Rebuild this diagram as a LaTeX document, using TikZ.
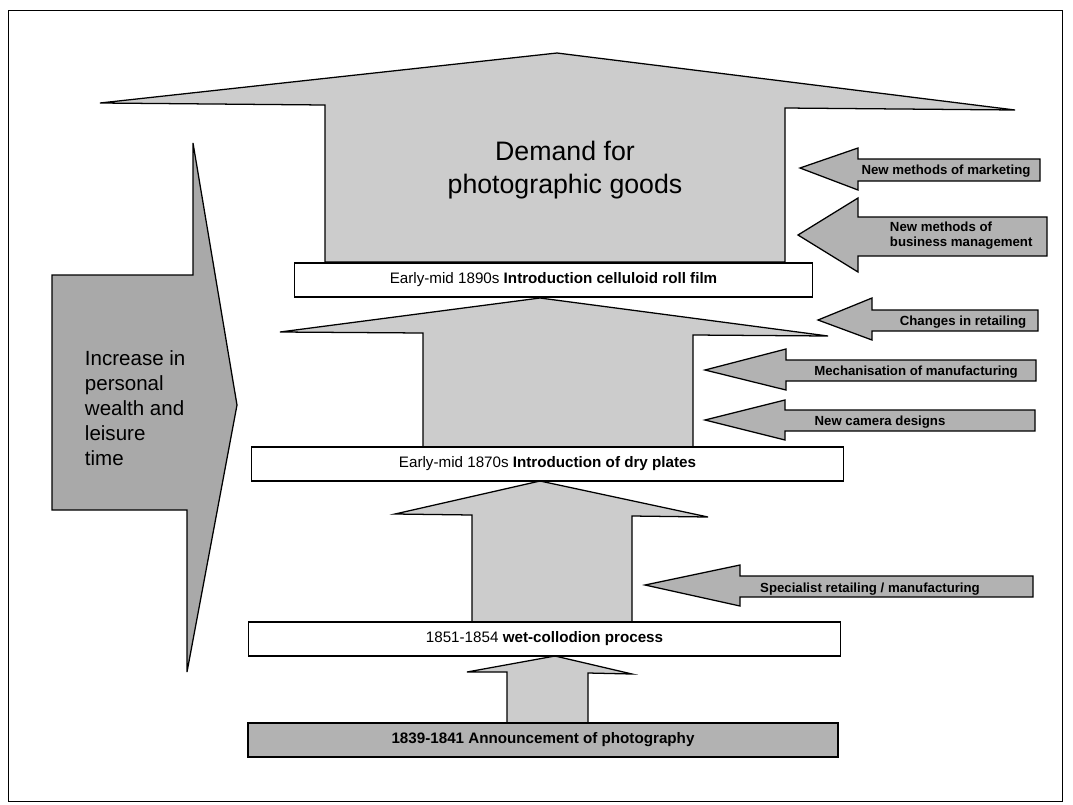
\documentclass[tikz,border=0pt]{standalone}
\usepackage{fontspec}
\setmainfont{Liberation Sans}
\usetikzlibrary{positioning}

\definecolor{lightgrey}{RGB}{204,204,204}
\definecolor{midgrey}{RGB}{178,178,178}

\begin{document}
\begin{tikzpicture}[x=0.025cm, y=-0.025cm,
  bigarrow/.style={draw, line width=0.9pt, fill=lightgrey},
  sidearrow/.style={draw, line width=0.9pt, fill=midgrey},
  stage/.style={draw, line width=0.9pt, fill=white, minimum height=0.85cm, font=\fontsize{10.8}{12}\selectfont},
  sidetext/.style={font=\fontsize{9.4}{10.6}\selectfont\bfseries, align=left}]
\useasboundingbox (0,0) rectangle (1073,804);
\draw[line width=0.7pt] (8,10) rectangle (1062,801);

% left arrow: wealth and leisure
\draw[sidearrow, fill=midgrey!95!black] (52,275) -- (193,275) -- (193,143) -- (237,405) -- (187,672) -- (187,510) -- (52,510) -- cycle;
\node (wealth)[align=left, anchor=north west, font=\fontsize{14.6}{17.7}\selectfont] at (80,346) {Increase in\\personal\\wealth and\\leisure\\time};

% upward arrows
\draw[bigarrow] (325,262) -- (325,105) -- (100,103) -- (557,53) -- (1015,110) -- (785,108) -- (785,262) -- cycle;
\draw[bigarrow] (423,447) -- (423,333) -- (280,332) -- (540,298) -- (828,336) -- (693,335) -- (693,447) -- cycle;
\draw[bigarrow] (472,622) -- (472,515) -- (395,514) -- (540,481) -- (708,517) -- (632,516) -- (632,622) -- cycle;
\draw[bigarrow] (507,723) -- (507,672) -- (467,672) -- (555,656) -- (632,674) -- (588,673) -- (588,723) -- cycle;

\node (demand)[align=center, font=\fontsize{19}{24}\selectfont] at (565,170) {Demand for\\photographic goods};

% stages
\node (film)[stage, minimum width=12.93cm] at (553.5,280) {Early-mid 1890s \textbf{Introduction celluloid roll film}};
\node (plates)[stage, minimum width=14.78cm] at (547.5,464) {Early-mid 1870s \textbf{Introduction of dry plates}};
\node (collodion)[stage, minimum width=14.78cm] at (544.5,639) {1851-1854 \textbf{wet-collodion process}};
\node (announce)[stage, fill=midgrey, minimum width=14.75cm] at (543,740) {\textbf{1839-1841 Announcement of photography}};

% influences from the right
\draw[sidearrow] (1040,159) -- (858,159) -- (858,148) -- (800,168) -- (858,190) -- (858,181) -- (1040,181) -- cycle;
\node (marketing)[sidetext] at (946,171) {New methods of marketing};

\draw[sidearrow] (1047,217) -- (858,217) -- (858,198) -- (798,235) -- (858,272) -- (858,256) -- (1047,256) -- cycle;
\node (business)[sidetext, anchor=west] at (885,236) {New methods of\\business management};

\draw[sidearrow] (1038,310) -- (872,310) -- (872,298) -- (818,320) -- (872,340) -- (872,331) -- (1038,331) -- cycle;
\node (retailing)[sidetext] at (963,322) {Changes in retailing};

\draw[sidearrow] (1036,360) -- (786,360) -- (786,349) -- (705,370) -- (786,390) -- (786,381) -- (1036,381) -- cycle;
\node (mechanisation)[sidetext] at (916,372) {Mechanisation of manufacturing};

\draw[sidearrow] (1035,410) -- (785,410) -- (785,400) -- (705,420) -- (785,440) -- (785,431) -- (1035,431) -- cycle;
\node (camera)[sidetext] at (880,422) {New camera designs};

\draw[sidearrow] (1033,576) -- (740,576) -- (740,565) -- (645,585) -- (740,606) -- (740,597) -- (1033,597) -- cycle;
\node (specialist)[sidetext] at (870,589) {Specialist retailing / manufacturing};
\end{tikzpicture}
\end{document}
